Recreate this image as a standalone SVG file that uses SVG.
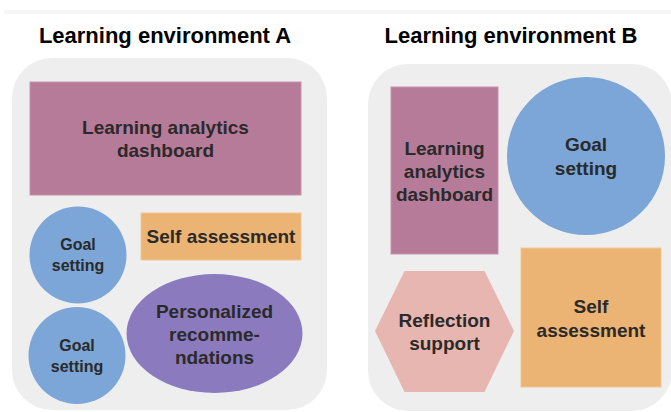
<svg xmlns="http://www.w3.org/2000/svg" width="671" height="412" viewBox="0 0 671 412">
  <style>
    .title { font-family: "Liberation Sans", Arial, sans-serif; font-weight: bold; font-size: 22px; fill: #000; text-anchor: middle; }
    .lbl { font-family: "Liberation Sans", Arial, sans-serif; font-weight: bold; font-size: 19px; fill: #2a2a2a; text-anchor: middle; }
    .sm { font-size: 16px; }
    .panel { fill: #eeeeee; }
    .dash { fill: #b77b9a; stroke: #c792ad; stroke-width: 1; }
    .goal { fill: #7ba6d7; }
    .self { fill: #ecb474; stroke: #f2c591; stroke-width: 1; }
    .pers { fill: #8b7bbe; }
    .refl { fill: #e8b6b1; }
  </style>

  <!-- thin top band -->
  <rect x="4" y="10" width="667" height="4" fill="#f6f6f6"/>

  <!-- environment A -->
  <g id="env-a">
    <text class="title" x="165" y="43">Learning environment A</text>
    <rect class="panel" x="12" y="58" width="315" height="352" rx="40" ry="40"/>
  </g>
  <g id="a-dashboard">
    <rect class="dash" x="30" y="82" width="271" height="113"/>
    <text class="lbl" x="165.5" y="134">Learning analytics</text>
    <text class="lbl" x="165.5" y="157">dashboard</text>
  </g>
  <g id="a-goal-1">
    <circle class="goal" cx="78" cy="255" r="48.5"/>
    <text class="lbl sm" x="78" y="250">Goal</text>
    <text class="lbl sm" x="78" y="271">setting</text>
  </g>
  <g id="a-self">
    <rect class="self" x="141" y="213" width="160" height="47"/>
    <text class="lbl" x="221" y="243">Self assessment</text>
  </g>
  <g id="a-goal-2">
    <circle class="goal" cx="77" cy="355.5" r="48.5"/>
    <text class="lbl sm" x="77" y="351">Goal</text>
    <text class="lbl sm" x="77" y="372">setting</text>
  </g>
  <g id="a-personalized">
    <ellipse class="pers" cx="214.5" cy="333.5" rx="88" ry="59.5"/>
    <text class="lbl" x="214.5" y="318">Personalized</text>
    <text class="lbl" x="214.5" y="341">recomme-</text>
    <text class="lbl" x="214.5" y="364">ndations</text>
  </g>

  <!-- environment B -->
  <g id="env-b">
    <text class="title" x="511" y="43">Learning environment B</text>
    <rect class="panel" x="368" y="64" width="304" height="347" rx="40" ry="40"/>
  </g>
  <g id="b-dashboard">
    <rect class="dash" x="391" y="87" width="107" height="167"/>
    <text class="lbl" x="444.5" y="155">Learning</text>
    <text class="lbl" x="444.5" y="178">analytics</text>
    <text class="lbl" x="444.5" y="201">dashboard</text>
  </g>
  <g id="b-goal">
    <circle class="goal" cx="586" cy="156" r="79"/>
    <text class="lbl" x="586" y="151">Goal</text>
    <text class="lbl" x="586" y="175">setting</text>
  </g>
  <g id="b-reflection">
    <polygon class="refl" points="375,331 404.5,271 484.5,271 514,331 484.5,392 404.5,392"/>
    <text class="lbl" x="444.5" y="327">Reflection</text>
    <text class="lbl" x="444.5" y="350">support</text>
  </g>
  <g id="b-self">
    <rect class="self" x="521" y="248" width="140" height="139"/>
    <text class="lbl" x="591" y="313">Self</text>
    <text class="lbl" x="591" y="337">assessment</text>
  </g>

  <!-- no connectors in this diagram -->
  <g id="connectors"/>
</svg>
